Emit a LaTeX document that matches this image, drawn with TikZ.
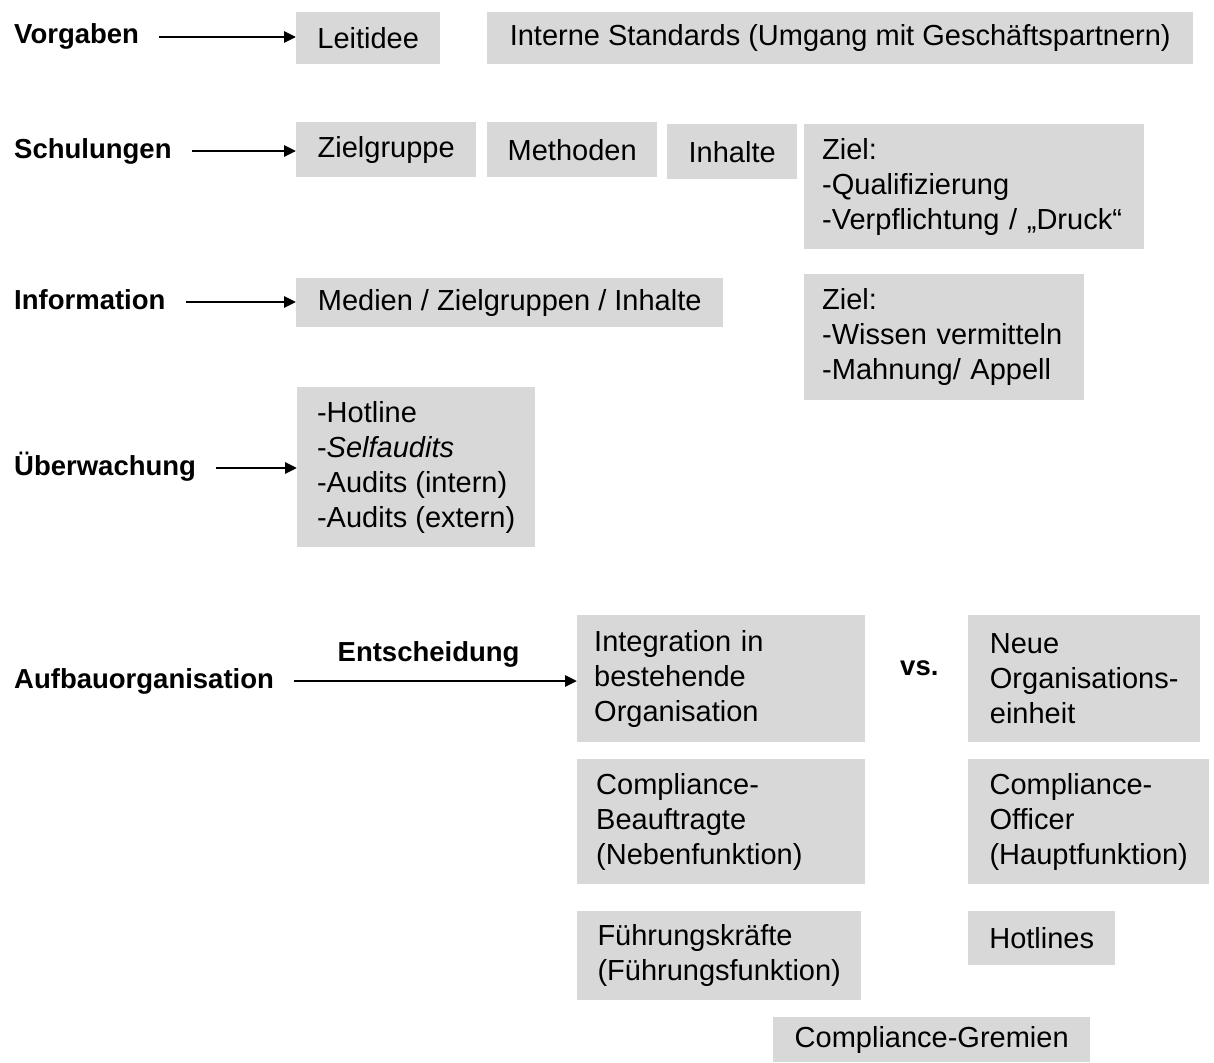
\documentclass[tikz,border=0pt]{standalone}
\usepackage{fontspec}
\setmainfont{Liberation Sans}
\usepackage{xcolor}
\usepackage{tikz}
\usetikzlibrary{arrows.meta}
\definecolor{boxgray}{HTML}{D8D8D8}
\tikzset{
	box/.style={
		fill=boxgray, anchor=north west, align=left,
		inner xsep=18pt, inner ysep=0pt,
		font=\fontsize{29}{35}\selectfont,
	},
	lab/.style={
		anchor=west, inner sep=0pt,
		text height=20pt, text depth=6pt,
		font=\fontsize{27.5}{30}\selectfont\bfseries,
	},
	arr/.style={
		line width=2.8pt, shorten <=20pt,
		-{Triangle[length=12pt,width=11pt]},
	},
}

\begin{document}
\begin{tikzpicture}[x=1pt, y=-1pt]
			\useasboundingbox (0,0) rectangle (1214,1062);
			
			% Left labels
			\node[lab] (vorg) at (14,37) {Vorgaben};
			\node[lab] (schul) at (14,151) {Schulungen};
			\node[lab] (info) at (14,302) {Information};
			\node[lab] (ueberw) at (14,468) {Überwachung};
			\node[lab] (aufbau) at (14,681) {Aufbauorganisation};
			
			% Vorgaben
			\node[box, minimum width=144pt, minimum height=52pt] (leit) at (296,12) {Leitidee};
			\node[box, minimum width=706pt, minimum height=52pt] (intstd) at (487,12) {Interne Standards (Umgang mit Geschäftspartnern)};
			
			% Schulungen
			\node[box, minimum width=180pt, minimum height=55pt] (zielgr) at (296,122) {Zielgruppe};
			\node[box, minimum width=170pt, minimum height=55pt] (meth) at (487,122) {Methoden};
			\node[box, minimum width=130pt, minimum height=55pt] (inh) at (667,124) {Inhalte};
			\node[box, text width=304pt, minimum height=125pt] (zielschul) at (804,124) {Ziel:\\-Qualifizierung\\-Verpflichtung / „Druck“};
			
			% Information
			\node[box, minimum width=427pt, minimum height=49pt] (medien) at (296,278) {Medien / Zielgruppen / Inhalte};
			\node[box, text width=244pt, minimum height=126pt] (zielinfo) at (804,274) {Ziel:\\-Wissen vermitteln\\-Mahnung/ Appell};
			
			% Ueberwachung
			\node[box, minimum width=238pt, minimum height=160pt] (audits) at (297,387) {-Hotline\\-\textit{Selfaudits}\\-Audits (intern)\\-Audits (extern)};
			
			% Aufbauorganisation
			\node[box, inner xsep=17pt, text width=254pt, minimum height=127pt] (integ) at (577,615) {Integration in\\bestehende\\Organisation};
			\node[lab] (vs) at (900,668) {vs.};
			\node[box, minimum width=232pt, minimum height=127pt] (neue) at (968,615) {Neue\\Organisations-\\einheit};
			\node[box, inner xsep=19pt, text width=250pt, minimum height=125pt] (beauf) at (577,759) {Compliance-\\Beauftragte\\(Nebenfunktion)};
			\node[box, minimum width=241pt, minimum height=125pt] (officer) at (968,759) {Compliance-\\Officer\\(Hauptfunktion)};
			\node[box, minimum width=284pt, minimum height=89pt] (fuehr) at (577,911) {Führungskräfte\\(Führungsfunktion)};
			\node[box, minimum width=147pt, minimum height=54pt] (hotl) at (968,911) {Hotlines};
			\node[box, minimum width=317pt, minimum height=45pt] (grem) at (773,1017) {Compliance-Gremien};
			
			% Arrows
			\draw[arr] (vorg.east) -- (vorg.east -| leit.west);
			\draw[arr] (schul.east) -- (schul.east -| zielgr.west);
			\draw[arr] (info.east) -- (info.east -| medien.west);
			\draw[arr] (ueberw.east) -- (ueberw.east -| audits.west);
			\draw[arr] (aufbau.east) -- (aufbau.east -| integ.west)
				node[pos=0.51, above=12pt, lab, anchor=south] (entsch) {Entscheidung};
		\end{tikzpicture}
\end{document}
